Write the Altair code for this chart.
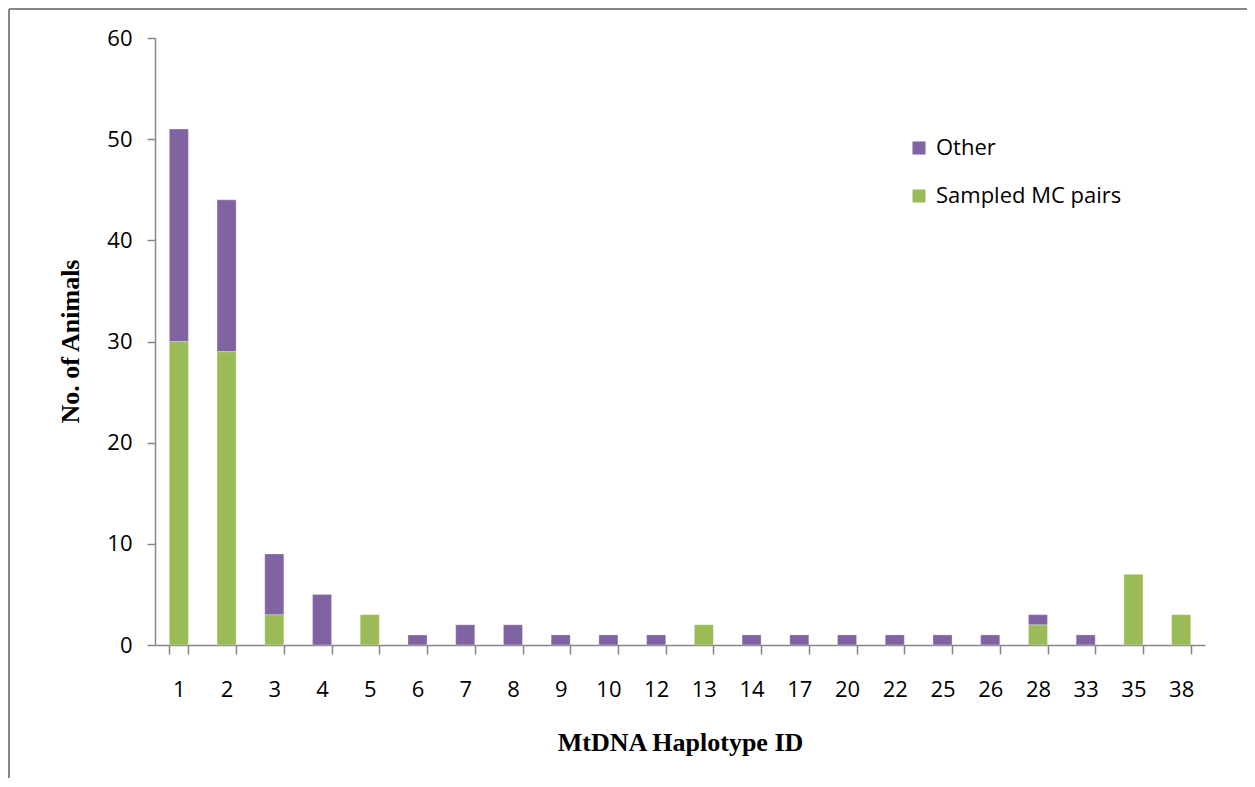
import altair as alt
import pandas as pd

haplotypes = ["1", "2", "3", "4", "5", "6", "7", "8", "9", "10", "12", "13",
              "14", "17", "20", "22", "25", "26", "28", "33", "35", "38"]
sampled = [30, 29, 3, 0, 3, 0, 0, 0, 0, 0, 0, 2, 0, 0, 0, 0, 0, 0, 2, 0, 7, 3]
other = [21, 15, 6, 5, 0, 1, 2, 2, 1, 1, 1, 0, 1, 1, 1, 1, 1, 1, 1, 1, 0, 0]
series = ["Other", "Sampled MC pairs"]
colors = ["#8064A2", "#9BBB59"]
y_ticks = [0, 10, 20, 30, 40, 50, 60]

rows = []
for h, s, o in zip(haplotypes, sampled, other):
    if s > 0:
        rows.append({"hap": h, "series": "Sampled MC pairs", "value": s, "ord": 0})
    if o > 0:
        rows.append({"hap": h, "series": "Other", "value": o, "ord": 1})
df = pd.DataFrame(rows)

FONT = "Open Sans"
TFONT = "Liberation Serif"
GRAY = "#868686"
FS = 22

bars = alt.Chart(df).mark_bar(stroke="#ffffff", strokeWidth=0.6, strokeOpacity=0.5).encode(
    x=alt.X("hap:N", sort=haplotypes, scale=alt.Scale(paddingInner=0.6, paddingOuter=0.3),
            axis=alt.Axis(title="MtDNA Haplotype ID", labelAngle=0, tickBand="extent",
                          domainColor=GRAY, tickColor=GRAY, tickSize=9, domainWidth=1.5,
                          tickWidth=1.5, labelFont=FONT, labelFontSize=FS, labelPadding=25,
                          labelColor="#000000", titleFont=TFONT, titleFontSize=26,
                          titleFontWeight="bold", titleColor="#000000", titleY=97,
                          titleBaseline="middle")),
    y=alt.Y("value:Q", stack="zero", scale=alt.Scale(domain=[0, 60], nice=False),
            axis=alt.Axis(title="No. of Animals", values=y_ticks, grid=False,
                          domainColor=GRAY, tickColor=GRAY, tickSize=8, domainWidth=1.5,
                          tickWidth=1.5, labelFont=FONT, labelFontSize=FS, labelPadding=15,
                          labelColor="#000000", titleFont=TFONT, titleFontSize=26,
                          titleFontWeight="bold", titleColor="#000000", titleAngle=-90,
                          titleX=-85, titleY=303, titleAlign="center",
                          titleBaseline="middle")),
    color=alt.Color("series:N", scale=alt.Scale(domain=series, range=colors),
                    legend=alt.Legend(title=None, orient="none", legendX=753, legendY=99,
                                      symbolType="square", symbolSize=170,
                                      symbolStrokeWidth=0, labelFont=FONT,
                                      labelFontSize=FS, labelColor="#000000",
                                      labelLimit=400, rowPadding=26, padding=0,
                                      labelOffset=6)),
    order=alt.Order("ord:Q", sort="ascending"),
)

frame_top = alt.Chart(df).mark_rule(color=GRAY, strokeWidth=2).encode(
    x=alt.value(-146), x2=alt.value(1130), y=alt.value(-29))
frame_left = alt.Chart(df).mark_rule(color=GRAY, strokeWidth=2).encode(
    x=alt.value(-146), y=alt.value(-29), y2=alt.value(800))

chart = alt.layer(frame_top, frame_left, bars).properties(
    width=1050, height=607,
    autosize=alt.AutoSizeParams(type="none"),
    padding={"left": 147, "top": 30, "right": 42, "bottom": 133},
).configure(background="#ffffff").configure_view(stroke=None)

chart.save("out.html", embed_options={"renderer": "svg", "actions": False})
